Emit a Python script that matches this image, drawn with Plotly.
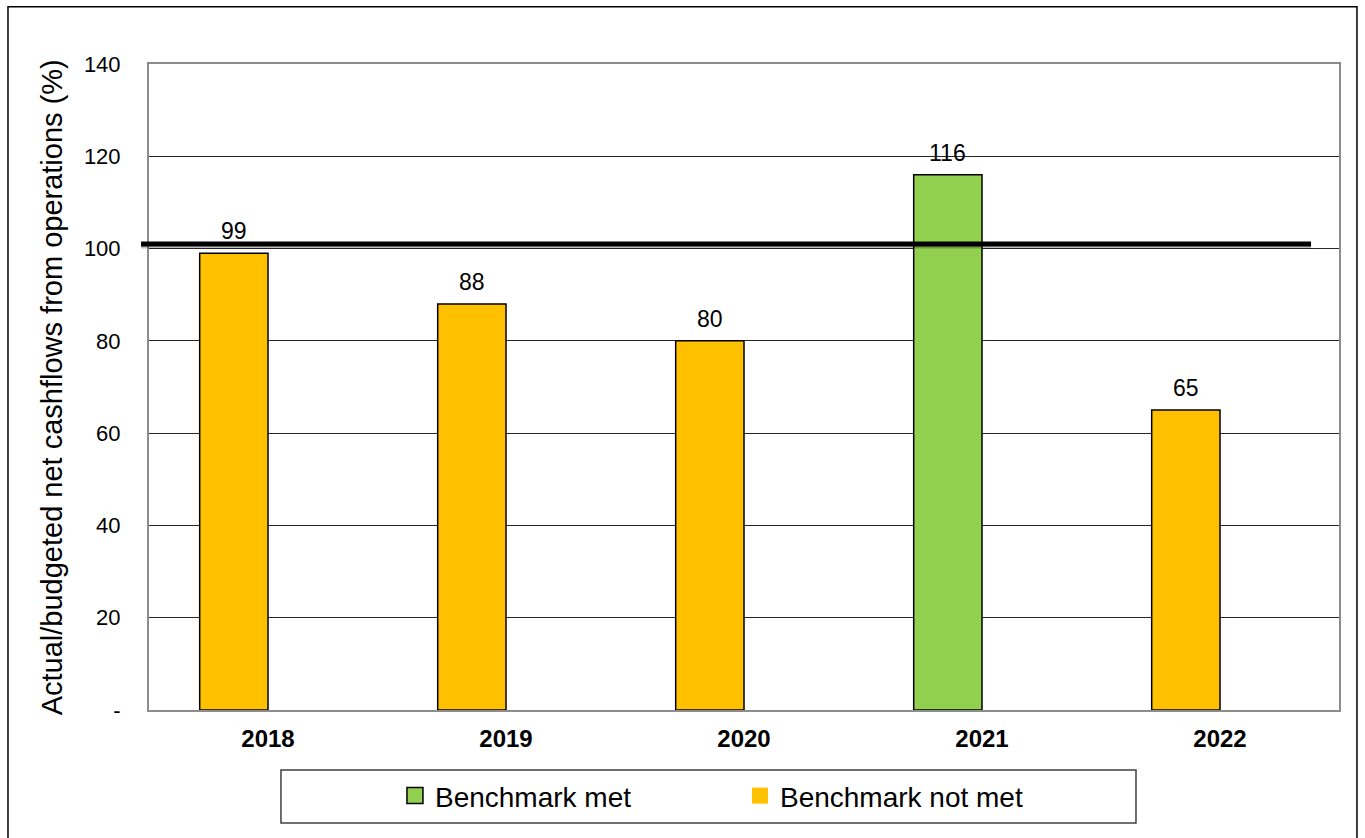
import plotly.graph_objects as go

# Financial years and actual/budgeted net cashflow ratios (%)
years = ["2018", "2019", "2020", "2021", "2022"]
benchmark_met = [None, None, None, 116, None]
benchmark_not_met = [99, 88, 80, None, 65]
benchmark_level = 101

y_tick_vals = [0, 20, 40, 60, 80, 100, 120, 140]
y_tick_text = ["-", "20", "40", "60", "80", "100", "120", "140"]

GREEN = "#92D050"
YELLOW = "#FFC000"
FONT = "Arial, Liberation Sans, sans-serif"

BAR_W = 0.287

fig = go.Figure()

for name, vals, color in [
    ("Benchmark met", benchmark_met, GREEN),
    ("Benchmark not met", benchmark_not_met, YELLOW),
]:
    fig.add_trace(go.Bar(
        x=years, y=vals, name=name,
        width=BAR_W, offset=-BAR_W,
        marker=dict(color=color, line=dict(color="#000000", width=1.5)),
        showlegend=False,
    ))
    # Value labels above each bar, centred on the bar
    for i, v in enumerate(vals):
        if v is None:
            continue
        fig.add_annotation(
            x=i - BAR_W / 2, y=v, text=str(v), showarrow=False,
            xanchor="center", yanchor="bottom", yshift=7,
            font=dict(family=FONT, size=23, color="#000000"),
        )

# Legend entries drawn as square markers
fig.add_trace(go.Scatter(
    x=[None], y=[None], mode="markers", name="Benchmark met",
    marker=dict(symbol="square", size=16, color=GREEN,
                line=dict(color="#000000", width=1.5)),
))
fig.add_trace(go.Scatter(
    x=[None], y=[None], mode="markers", name="Benchmark not met",
    marker=dict(symbol="square", size=16, color=YELLOW,
                line=dict(color=YELLOW, width=0)),
))

# Benchmark line with a soft shadow underneath
fig.add_shape(type="line", xref="paper", yref="y",
              x0=-0.0067, x1=0.9765, y0=benchmark_level - 0.45, y1=benchmark_level - 0.45,
              line=dict(color="rgba(0,0,0,0.25)", width=5))
fig.add_shape(type="line", xref="paper", yref="y",
              x0=-0.0067, x1=0.9765, y0=benchmark_level, y1=benchmark_level,
              line=dict(color="#000000", width=5))

# Legend frame
fig.add_shape(type="rect", xref="paper", yref="paper",
              x0=0.1109, x1=0.8294, y0=-0.175, y1=-0.0929,
              line=dict(color="#404040", width=1.5), fillcolor="rgba(0,0,0,0)")

# Outer chart frame
fig.add_shape(type="rect", xref="paper", yref="paper",
              x0=-0.1185, x1=1.0151, y0=-0.215, y1=1.0887,
              line=dict(color="#000000", width=1.5), fillcolor="rgba(0,0,0,0)")

fig.add_annotation(
    text="Actual/budgeted net cashflows from operations (%)",
    xref="paper", yref="paper", x=-0.0815, y=0.4995,
    xanchor="center", yanchor="middle", textangle=-90, showarrow=False,
    font=dict(family=FONT, size=29, color="#000000"),
)

fig.update_layout(
    width=1365, height=838,
    margin=dict(l=149, r=26, t=64, b=128),
    paper_bgcolor="#FFFFFF", plot_bgcolor="#FFFFFF",
    barmode="overlay",
    font=dict(family=FONT, color="#000000"),
    legend=dict(
        orientation="h", x=0.4966, xanchor="center", y=-0.133, yanchor="middle",
        font=dict(family=FONT, size=28, color="#000000"),
        bgcolor="rgba(0,0,0,0)", entrywidth=300, itemsizing="trace",
    ),
    xaxis=dict(
        type="category", showgrid=False, zeroline=False,
        showline=True, mirror=True, linecolor="#8C8C8C", linewidth=2,
        ticks="", ticklabelstandoff=6,
        tickfont=dict(family=FONT, size=24, color="#000000", weight="bold"),
    ),
    yaxis=dict(
        range=[0, 140], tickvals=y_tick_vals, ticktext=y_tick_text,
        showgrid=True, gridcolor="#262626", gridwidth=1, zeroline=False,
        showline=True, mirror=True, linecolor="#8C8C8C", linewidth=2,
        ticks="", ticklabelstandoff=22,
        tickfont=dict(family=FONT, size=22, color="#000000"),
    ),
)

fig.write_html("out.html")
